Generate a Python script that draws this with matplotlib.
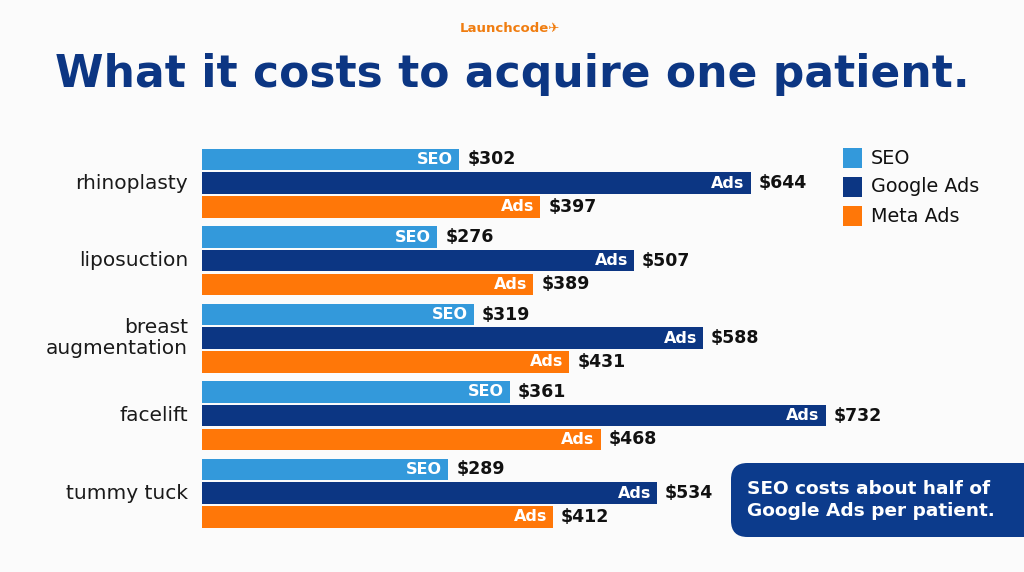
import matplotlib
matplotlib.use("Agg")
import matplotlib.pyplot as plt
from matplotlib.patches import FancyBboxPatch, Rectangle

categories = ["rhinoplasty", "liposuction", "breast\naugmentation", "facelift", "tummy tuck"]
series_names = ["SEO", "Google Ads", "Meta Ads"]
seo = [302, 276, 319, 361, 289]
google = [644, 507, 588, 732, 534]
meta = [397, 389, 431, 468, 412]
inner_labels = ["SEO", "Ads", "Ads"]
colors = ["#3399DB", "#0C3683", "#FF7708"]

W, H = 1024, 572
fig = plt.figure(figsize=(W / 100, H / 100), dpi=100)
bg = "#FBFBFB"
fig.patch.set_facecolor(bg)

# axes in pixel coordinates
ax_left, ax_right = 202, 1000
ax_top, ax_bottom = 140, 530
ax = fig.add_axes([ax_left / W, 1 - ax_bottom / H, (ax_right - ax_left) / W, (ax_bottom - ax_top) / H])
ax.set_facecolor("none")
px_per_unit = 0.852
ax.set_xlim(0, (ax_right - ax_left) / px_per_unit)

group_pitch = 77.5
bar_pitch = 23.7
bar_h = 21.5
first_center = 159.5
ax.set_ylim(ax_bottom, ax_top)

all_series = [seo, google, meta]
for gi, cat in enumerate(categories):
    for si, vals in enumerate(all_series):
        yc = first_center + gi * group_pitch + si * bar_pitch
        v = vals[gi]
        ax.barh(yc, v, height=bar_h, color=colors[si], edgecolor="none")
        ax.text(v - 6 / px_per_unit, yc, inner_labels[si], ha="right", va="center",
                color="white", fontsize=11.5, fontweight="bold")
        ax.text(v + 8 / px_per_unit, yc, f"${v}", ha="left", va="center",
                color="#111111", fontsize=12.5, fontweight="bold")
    ycat = first_center + gi * group_pitch + bar_pitch
    fig.text(188 / W, 1 - ycat / H, cat, ha="right", va="center", fontsize=14.5,
             color="#1a1a1a", linespacing=1.1)

ax.axis("off")

# title
fig.text(0.5, 1 - 75 / H, "What it costs to acquire one patient.", ha="center", va="center",
         fontsize=31.7, fontweight="bold", color="#0C3683")
# logo
fig.text(510 / W, 1 - 28 / H, "Launchcode\u2708", ha="center", va="center",
         fontsize=9.5, fontweight="bold", color="#F07D10")

# legend
leg_y = [158, 187, 216]
for name, c, y in zip(series_names, colors, leg_y):
    fig.patches.append(Rectangle((843 / W, 1 - (y + 10) / H), 19 / W, 20 / H,
                                 transform=fig.transFigure, facecolor=c, edgecolor="none"))
    fig.text(871 / W, 1 - y / H, name, ha="left", va="center", fontsize=13.8, color="#111111")

# callout box
box = FancyBboxPatch((731 / W, 1 - 537 / H), 310 / W, 74 / H,
                     boxstyle="round,pad=0,rounding_size=0.016",
                     transform=fig.transFigure, facecolor="#0C3B8C", edgecolor="none",
                     mutation_aspect=W / H)
fig.patches.append(box)
fig.text(747 / W, 1 - 500 / H, "SEO costs about half of\nGoogle Ads per patient.", ha="left", va="center",
         fontsize=13.3, fontweight="bold", color="white", linespacing=1.35)

fig.savefig("out.png", dpi=100, facecolor=bg)
